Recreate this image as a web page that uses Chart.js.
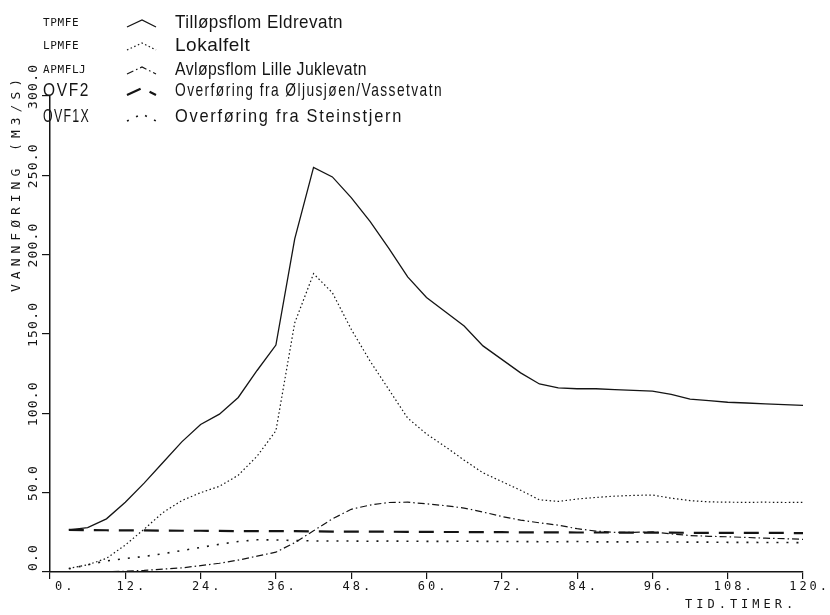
<!DOCTYPE html>
<html>
<head>
<meta charset="utf-8">
<title>Vannføring</title>
<script src="https://cdn.jsdelivr.net/npm/chart.js@4.4.1/dist/chart.umd.min.js"></script>
<style>
  html, body { margin: 0; padding: 0; background: #fff; }
  canvas { display: block; }
</style>
</head>
<body>
<canvas id="myChartLine" width="830" height="615"></canvas>
<script>
const hours = [3, 6, 9, 12, 15, 18, 21, 24, 27, 30, 33, 36, 39, 42, 45, 48, 51, 54, 57, 60,
  63, 66, 69, 72, 75, 78, 81, 84, 87, 90, 93, 96, 99, 102, 105, 108, 111, 114, 117, 120];

const tpmfe = [26.5, 28, 33.5, 44, 56, 69, 82, 93, 99.5, 110, 127, 143, 210, 255, 249, 236, 221, 204, 186, 173,
  164, 155, 142.5, 134, 125.5, 118.5, 116, 115.5, 115.5, 115, 114.5, 114, 112, 109, 108, 107, 106.5, 106, 105.5, 105];
const lpmfe = [2.3, 4.5, 8.6, 17, 27, 37.5, 45, 50, 54, 61, 73, 89, 157, 188, 176, 153, 133, 115, 97, 87,
  79, 70.5, 62.5, 57, 51.5, 45.5, 44.5, 46, 47, 47.8, 48.3, 48.5, 46.5, 45, 44.2, 44, 43.9, 44, 43.8, 43.9];
const apmflj = [0, 0, 0.2, 0.5, 1, 1.8, 2.6, 4, 5.5, 7.5, 10, 12.5, 18.5, 26, 33.5, 39.5, 42.2, 43.8, 44, 43,
  41.8, 40.3, 37.8, 35, 32.7, 31, 29.5, 27.3, 25.8, 25, 25, 25.3, 24, 23, 22.5, 22.2, 21.8, 21.3, 21, 20.6];
const ovf2 = [26.5, 26.4, 26.3, 26.2, 26.2, 26.1, 26.0, 26.0, 25.9, 25.8, 25.8, 25.7, 25.7, 25.6, 25.5, 25.5, 25.4, 25.4, 25.3, 25.3,
  25.2, 25.2, 25.1, 25.1, 25.0, 25.0, 25.0, 24.9, 24.9, 24.9, 24.8, 24.8, 24.8, 24.7, 24.7, 24.7, 24.6, 24.6, 24.6, 24.5];
const ovf1x = [2, 4.5, 7, 8.5, 9.8, 11.5, 13.5, 15.5, 17.5, 19.2, 20.3, 20.2, 19.8, 19.6, 19.5, 19.5, 19.4, 19.5, 19.4, 19.3,
  19.3, 19.4, 19.3, 19.2, 19.2, 19.1, 19.1, 19.2, 19.0, 19.0, 19.0, 18.9, 18.9, 18.8, 18.8, 18.7, 18.7, 18.6, 18.6, 18.5];

const seriesCodes = ['TPMFE', 'LPMFE', 'APMFLJ', 'OVF2', 'OVF1X'];
const seriesNames = [
  'Tilløpsflom Eldrevatn',
  'Lokalfelt',
  'Avløpsflom Lille Juklevatn',
  'Overføring fra Øljusjøen/Vassetvatn',
  'Overføring fra Steinstjern'
];

const xTicks = [0, 12, 24, 36, 48, 60, 72, 84, 96, 108, 120];
const xTickLabels = ['0.', '12.', '24.', '36.', '48.', '60.', '72.', '84.', '96.', '108.', '120.'];
const yTicks = [0, 50, 100, 150, 200, 250, 300];
const yTickLabels = ['0.0', '50.0', '100.0', '150.0', '200.0', '250.0', '300.0'];
const yTitle = 'VANNFØRING (M3/S)';
const xTitle = 'TID.TIMER.';

const ink = '#141414';
const plotter = '"DejaVu Sans Mono", monospace';
const hand = '"Liberation Sans", Arial, sans-serif';

function points(values) {
  return hours.map((h, i) => ({ x: h, y: values[i] }));
}

function series(values, width, dash) {
  return {
    data: points(values),
    borderColor: ink,
    borderWidth: width,
    borderDash: dash,
    pointRadius: 0,
    tension: 0,
    fill: false
  };
}

// tick labels, axis titles and the legend block, drawn in plotter style
const plotterText = {
  id: 'plotterText',
  afterDraw(chart) {
    const ctx = chart.ctx;
    const xs = chart.scales.x;
    const ys = chart.scales.y;
    const area = chart.chartArea;
    ctx.save();
    ctx.fillStyle = ink;
    ctx.textAlign = 'left';

    // x tick labels: number part centred on the tick
    ctx.font = '12px ' + plotter;
    ctx.letterSpacing = '3px';
    ctx.textBaseline = 'alphabetic';
    xTicks.forEach((v, i) => {
      const num = xTickLabels[i].replace('.', '');
      const w = ctx.measureText(num).width - 3;
      const x = Math.max(xs.getPixelForValue(v) - w / 2, area.left + 5);
      ctx.fillText(xTickLabels[i], x, area.bottom + 18);
    });

    // x title
    ctx.letterSpacing = '4px';
    ctx.fillText(xTitle, area.right - 118, area.bottom + 36);

    // y tick labels, reading upwards
    ctx.font = '13px ' + plotter;
    ctx.letterSpacing = '1.2px';
    ctx.textBaseline = 'middle';
    yTicks.forEach((v, i) => {
      const py = ys.getPixelForValue(v);
      const num = yTickLabels[i].split('.')[0];
      const w = ctx.measureText(num).width - 1.2;
      const start = Math.max(-w / 2, py - area.bottom + 1);
      ctx.save();
      ctx.translate(area.left - 16, py);
      ctx.rotate(-Math.PI / 2);
      ctx.fillText(yTickLabels[i], start, 0);
      ctx.restore();
    });

    // y title
    ctx.letterSpacing = '5px';
    ctx.save();
    ctx.translate(area.left - 33, 292);
    ctx.rotate(-Math.PI / 2);
    ctx.fillText(yTitle, 0, 0);
    ctx.restore();

    // legend
    const rowMid = [23, 46, 70, 91, 117];
    const nameWidth = [168, 76, 192, 268, 228];
    ctx.textBaseline = 'middle';
    chart.data.datasets.forEach((ds, i) => {
      const y = rowMid[i];
      if (i < 3) {
        ctx.font = '11px ' + plotter;
        ctx.letterSpacing = '0.6px';
        ctx.fillText(seriesCodes[i], 43, y);
      } else {
        ctx.font = '19px ' + hand;
        ctx.letterSpacing = '2px';
        ctx.fillText(seriesCodes[i], 43, y, 47);
      }

      ctx.save();
      ctx.strokeStyle = ink;
      ctx.lineWidth = ds.borderWidth;
      ctx.setLineDash(ds.borderDash || []);
      ctx.beginPath();
      ctx.moveTo(127, y + 4);
      ctx.lineTo(142, y - 3);
      ctx.lineTo(156, y + 4);
      ctx.stroke();
      ctx.restore();

      ctx.font = '19px ' + hand;
      ctx.letterSpacing = i > 2 ? '2px' : '0.5px';
      ctx.fillText(seriesNames[i], 175, y, nameWidth[i]);
    });

    ctx.restore();
  }
};

const ctxLine = document.getElementById('myChartLine');

new Chart(ctxLine, {
  type: 'line',
  data: {
    datasets: [
      series(tpmfe, 1.3, []),
      series(lpmfe, 1.2, [1.5, 2.5]),
      series(apmflj, 1.2, [7, 3, 1.5, 3]),
      series(ovf2, 2.2, [15, 10]),
      series(ovf1x, 1.6, [2, 8])
    ]
  },
  options: {
    responsive: false,
    animation: false,
    devicePixelRatio: 1,
    layout: { padding: { top: 96, right: 27, left: 0, bottom: 0 } },
    plugins: {
      legend: { display: false },
      tooltip: { enabled: false }
    },
    scales: {
      x: {
        type: 'linear',
        min: 0,
        max: 120,
        ticks: { display: false, stepSize: 12 },
        grid: { drawOnChartArea: false, drawTicks: true, tickLength: 7, color: ink, lineWidth: 1.2 },
        border: { display: true, color: ink, width: 1.5 },
        afterFit(scale) { scale.height = 43; }
      },
      y: {
        min: 0,
        max: 300,
        ticks: { display: false, stepSize: 50 },
        grid: { drawOnChartArea: false, drawTicks: true, tickLength: 8, color: ink, lineWidth: 1.2 },
        border: { display: true, color: ink, width: 1.5 },
        afterFit(scale) { scale.width = 50; }
      }
    }
  },
  plugins: [plotterText]
});
</script>
</body>
</html>
